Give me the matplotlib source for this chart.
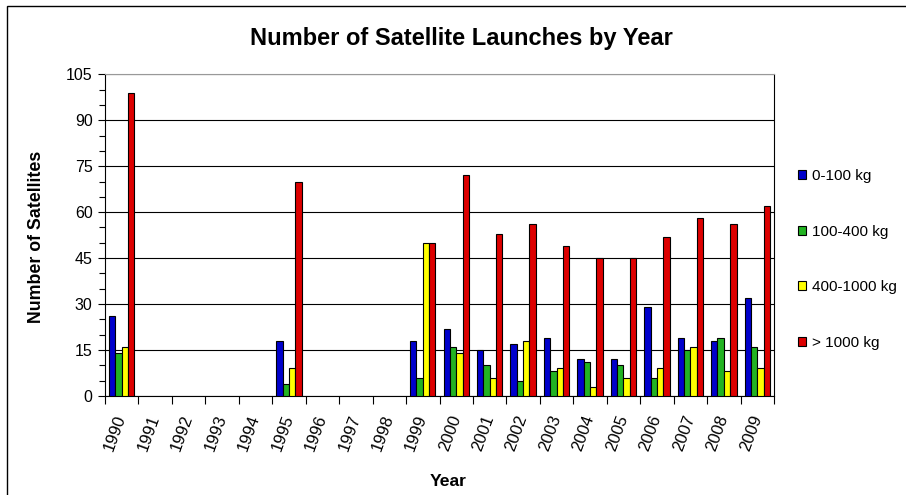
"""Grouped bar chart of satellite launches per year, split by mass class."""

from __future__ import annotations

import matplotlib

matplotlib.use("Agg")
import matplotlib.pyplot as plt
import numpy as np
from matplotlib.patches import Rectangle
from matplotlib.ticker import MultipleLocator

YEARS = [str(y) for y in range(1990, 2010)]
MASS_CLASSES = ["0-100 kg", "100-400 kg", "400-1000 kg", "> 1000 kg"]

# launches per year; years with no record are zero
SMALL = [26, 0, 0, 0, 0, 18, 0, 0, 0, 18, 22, 15, 17, 19, 12, 12, 29, 19, 18, 32]
MEDIUM = [14, 0, 0, 0, 0, 4, 0, 0, 0, 6, 16, 10, 5, 8, 11, 10, 6, 15, 19, 16]
LARGE = [16, 0, 0, 0, 0, 9, 0, 0, 0, 50, 14, 6, 18, 9, 3, 6, 9, 16, 8, 9]
HEAVY = [99, 0, 0, 0, 0, 70, 0, 0, 0, 50, 72, 53, 56, 49, 45, 45, 52, 58, 56, 62]

COLORS = ["#0000CC", "#22B322", "#FFFF00", "#DD0000"]

plt.rcParams["font.family"] = ["Liberation Sans", "DejaVu Sans"]


def main() -> None:
    W, H = 906, 495
    fig = plt.figure(figsize=(W / 100, H / 100), dpi=100)

    # chart-area frame; right and bottom edges fall outside the canvas
    fig.patches.append(
        Rectangle((6.5 / W, -0.1), 1.2, (H - 6) / H + 0.1, transform=fig.transFigure,
                  fill=False, edgecolor="black", linewidth=1.0)
    )

    ax = fig.add_axes([105 / W, 99 / H, 669 / W, 321.7 / H])
    x = np.arange(len(YEARS))
    width = 0.19
    series = [SMALL, MEDIUM, LARGE, HEAVY]
    for i, (values, color, label) in enumerate(zip(series, COLORS, MASS_CLASSES)):
        vals = np.array(values, dtype=float)
        shown = vals > 0
        ax.bar(x[shown] + (i - 1.5) * width, vals[shown], width, color=color,
               edgecolor="black", linewidth=0.8, label=label, zorder=3)

    ax.set_xlim(-0.5, len(YEARS) - 0.5)
    ax.set_ylim(0, 105)
    ax.yaxis.set_major_locator(MultipleLocator(15))
    ax.yaxis.set_minor_locator(MultipleLocator(5))
    ax.grid(axis="y", which="major", color="black", linewidth=0.8, zorder=0)

    ax.set_xticks(x)
    ax.set_xticklabels(YEARS, rotation=70, ha="right", va="center",
                       rotation_mode="anchor", fontsize=12)
    ax.set_xticks(np.arange(-0.5, len(YEARS)), minor=True)
    ax.tick_params(axis="x", which="major", length=0, pad=14)
    ax.tick_params(axis="x", which="minor", length=6, width=0.8, direction="out")
    ax.tick_params(axis="y", which="major", length=5, width=0.8, labelsize=11.5, pad=4)
    ax.tick_params(axis="y", which="minor", length=4, width=0.8)

    for side in ("left", "bottom", "right"):
        ax.spines[side].set_color("black")
        ax.spines[side].set_linewidth(0.8)
    ax.spines["top"].set_color("#999999")
    ax.spines["top"].set_linewidth(0.8)

    fig.text(461 / W, 1 - 39 / H, "Number of Satellite Launches by Year",
             ha="center", va="center", fontsize=17, fontweight="bold")
    fig.text(37 / W, 1 - 237 / H, "Number of Satellites", rotation=90,
             ha="center", va="center", fontsize=12.8, fontweight="bold")
    fig.text(448 / W, 1 - 481 / H, "Year", ha="center", va="center",
             fontsize=12.6, fontweight="bold")

    handles, labels = ax.get_legend_handles_labels()
    fig.legend(handles, labels, loc="upper left", bbox_to_anchor=(798 / W, 1 - 169 / H),
               frameon=False, fontsize=11, borderpad=0, borderaxespad=0,
               handlelength=0.52, handleheight=0.52, handletextpad=0.4,
               labelspacing=2.72)

    fig.savefig("out.png", dpi=100)
    plt.close(fig)


if __name__ == "__main__":
    main()
